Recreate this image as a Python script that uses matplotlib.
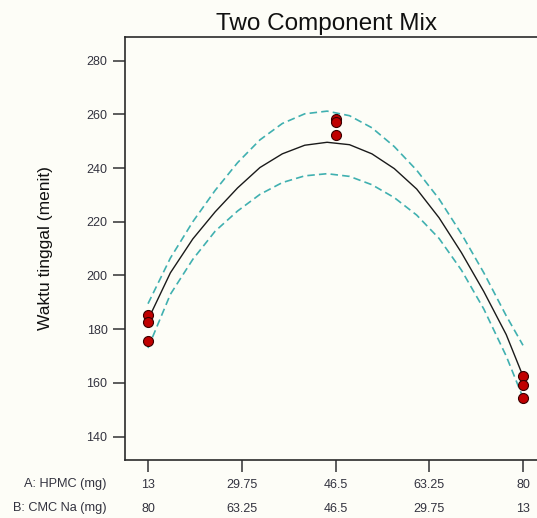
import matplotlib
matplotlib.use("Agg")
import matplotlib.pyplot as plt

plt.rcParams['font.family'] = ['Liberation Sans', 'DejaVu Sans']

# Observed runs (A: HPMC in mg, response in minutes)
obs_hpmc = [13, 13, 13, 46.5, 46.5, 46.5, 80, 80, 80]
obs_waktu = [185.3, 182.5, 175.5, 258.2, 257.0, 252.3, 162.5, 159.3, 154.5]

# Fitted curve and 95% band
fit_hpmc = [13, 17, 21, 25, 29, 33, 37, 41, 45, 49, 53, 57, 61, 65, 69, 73, 77, 80]
fit_mean = [183.5, 201, 213.6, 223.7, 232.6, 240.2, 245.3, 248.5, 249.6,
            248.7, 245.3, 239.8, 232.2, 221.5, 208.5, 194, 178, 162.5]
fit_upper = [189.5, 206.5, 220, 231.7, 242, 250.5, 256.6, 260.2, 261.2,
             259.5, 255, 248, 239.2, 228.5, 215.5, 201, 185, 174]
fit_lower = [173, 193, 206, 216.5, 224, 230.2, 234.6, 237.1, 237.9,
             236.9, 233.8, 229, 222.5, 213.8, 202, 187.5, 170, 154.5]

a_ticks = [13, 29.75, 46.5, 63.25, 80]
b_ticks = [80, 63.25, 46.5, 29.75, 13]
y_ticks = [140, 160, 180, 200, 220, 240, 260, 280]

bg = "#fdfdf7"
txt = "#33333f"
band_color = "#40b0b0"

fig = plt.figure(figsize=(5.37, 5.18), dpi=100, facecolor=bg)
ax = fig.add_axes([125 / 537, 1 - 460 / 518, 412 / 537, 423 / 518], facecolor=bg)

ax.plot(fit_hpmc, fit_upper, color=band_color, lw=1.2, linestyle=(0, (4.5, 2.5)))
ax.plot(fit_hpmc, fit_lower, color=band_color, lw=1.2, linestyle=(0, (4.5, 2.5)))
ax.plot(fit_hpmc, fit_mean, color="#1a1a1a", lw=1.0)
ax.plot(obs_hpmc, obs_waktu, linestyle="none", marker="o", markersize=7.2,
        markerfacecolor="#c00000", markeredgecolor="#3a0000", markeredgewidth=0.8)

ax.set_xlim(8.89, 82.5)
ax.set_ylim(131.3, 288.8)

ax.set_yticks(y_ticks)
ax.set_xticks(a_ticks)
ax.set_xticklabels(["13", "29.75", "46.5", "63.25", "80"])
ax.tick_params(axis="both", direction="out", length=8.6, width=1.3, color="#505050",
               labelsize=9, labelcolor=txt)
ax.tick_params(axis="y", pad=4)
ax.tick_params(axis="x", pad=5)

for side in ["left", "top", "bottom"]:
    ax.spines[side].set_color("#2a2a2a")
    ax.spines[side].set_linewidth(1.2)
ax.spines["right"].set_visible(False)

# second component row: B = 93 - A
sec = ax.secondary_xaxis(-0.1017, functions=(lambda a: 93 - a, lambda b: 93 - b))
sec.set_xticks(b_ticks)
sec.set_xticklabels(["80", "63.25", "46.5", "29.75", "13"])
sec.tick_params(length=0, pad=0, labelsize=9, labelcolor=txt)
sec.spines["bottom"].set_visible(False)

ax.set_ylabel("Waktu tinggal (menit)", fontsize=12.5, color="#111111", labelpad=24)

fig.text(107 / 537, 1 - 484 / 518, "A: HPMC (mg)", ha="right", va="center",
         fontsize=9.2, color=txt)
fig.text(107 / 537, 1 - 508 / 518, "B: CMC Na (mg)", ha="right", va="center",
         fontsize=9.2, color=txt)

fig.text(326.5 / 537, 1 - 30 / 518, "Two Component Mix", ha="center", va="baseline",
         fontsize=17.5, color="#111111")

fig.savefig("out.png", dpi=100, facecolor=bg)
